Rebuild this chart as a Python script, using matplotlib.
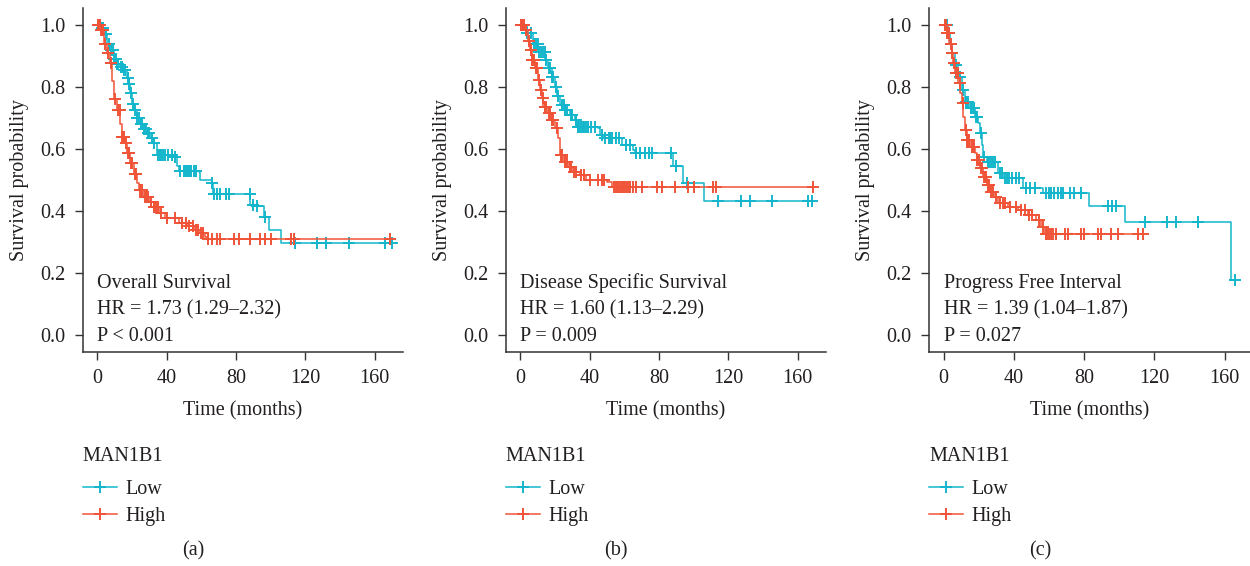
import numpy as np
import matplotlib.pyplot as plt
from matplotlib.lines import Line2D

plt.rcParams['font.family'] = ['Liberation Serif', 'DejaVu Serif']
plt.rcParams['font.size'] = 14.5

TEXT = "#231f20"
LOW_COL = "#14b6cc"
HIGH_COL = "#f05438"
FS = 14.5

# ---- (a) Overall Survival ----
a_low_t = [0, 2, 4, 5.6, 7.5, 9.4, 11, 13, 15, 17, 18, 19, 20, 21, 23, 25, 27, 29, 31, 32.5,
           34.5, 44, 46, 47, 58.6, 59.5, 66, 67, 88.4, 92, 96, 99, 106]
a_low_s = [1, 0.99, 0.97, 0.94, 0.92, 0.89, 0.875, 0.865, 0.855, 0.83, 0.81, 0.78, 0.745, 0.725,
           0.70, 0.68, 0.665, 0.65, 0.635, 0.62, 0.58, 0.575, 0.545, 0.53, 0.525, 0.50, 0.49,
           0.455, 0.42, 0.415, 0.38, 0.34, 0.296]
a_low_c = [1, 2.5, 3, 5, 7, 8, 9, 9.5, 10.5, 11.5, 12, 13.5, 14, 14.5, 15.5, 16, 17.5, 18.5, 19.5,
           20.5, 22, 23, 24, 25.5, 26, 27, 28, 29.5, 30, 31.5, 33, 35, 36, 37, 38, 39, 41, 43, 45,
           47.5, 50, 51, 52, 53, 54, 56, 57, 66, 67.5, 69, 71, 74, 76, 88, 90, 92, 96.5, 114, 127,
           132, 145, 166, 170]
a_high_t = [0, 1.7, 3.7, 5.6, 7.5, 8.5, 9.4, 11.4, 13.3, 14.3, 16, 17, 19, 21, 23, 24, 27, 30,
            32.5, 36.4, 39, 47, 52, 55.7, 59.5, 62.4, 63.4]
a_high_s = [1, 0.984, 0.94, 0.91, 0.876, 0.82, 0.76, 0.725, 0.68, 0.64, 0.62, 0.586, 0.554, 0.52,
            0.49, 0.468, 0.446, 0.43, 0.414, 0.392, 0.376, 0.36, 0.35, 0.339, 0.328, 0.317, 0.309]
a_high_c = [0.5, 1, 1.5, 2, 2.5, 3, 4.5, 6, 8, 10, 12, 13, 14.5, 15, 15.5, 16.5, 17.5, 18, 18.5,
            19.5, 20, 21.5, 22, 22.5, 24.5, 25, 25.5, 26, 27.5, 28, 28.5, 29, 31, 33, 34, 35, 37,
            40, 45, 49, 51, 53, 55, 57, 58, 60, 61, 64, 66, 69, 71, 79, 82, 88, 94, 97, 100,
            111.5, 113.5, 169]

# ---- (b) Disease Specific Survival ----
b_low_t = [0, 3.7, 7.5, 10.4, 14.2, 16, 18, 20, 21, 23, 25.8, 28.7, 31.5, 32.5, 45, 46, 48,
           58.5, 65, 66, 88, 94, 106]
b_low_s = [1, 0.973, 0.94, 0.914, 0.887, 0.86, 0.833, 0.80, 0.77, 0.742, 0.726, 0.71, 0.694,
           0.672, 0.667, 0.645, 0.634, 0.613, 0.597, 0.586, 0.545, 0.491, 0.432]
b_low_c = [1, 2, 4, 6, 8, 9, 10, 11, 12, 13, 14, 15, 16.5, 17, 18.5, 19, 20.5, 22, 24, 25, 26,
           27, 29, 30, 32, 33, 34, 35, 36, 37, 38, 39, 41, 43, 47, 49, 51, 52, 53, 55, 57, 61,
           63, 66.5, 69, 72, 74, 76, 87, 90, 96, 114, 127.5, 132.5, 145, 166, 168]
b_high_t = [0, 2.7, 4.6, 5.6, 6.5, 8.5, 10.4, 11.3, 12.3, 13.3, 16, 18, 20, 22, 23, 25, 28, 30.6,
            34.4, 38, 50, 53]
b_high_s = [1, 0.984, 0.95, 0.92, 0.887, 0.86, 0.822, 0.79, 0.763, 0.737, 0.715, 0.694, 0.667,
            0.634, 0.58, 0.559, 0.543, 0.527, 0.516, 0.50, 0.495, 0.478]
b_high_c = [0.5, 1, 1.5, 2, 3, 3.5, 5, 6, 7, 7.5, 8, 9, 9.5, 11, 12, 13, 14, 14.5, 15, 16.5, 17,
            18.5, 19, 21, 23.5, 24, 25.5, 26, 27, 28.5, 29, 31, 32, 35, 37, 40, 45, 47, 48, 54,
            55, 56, 57, 58, 59, 60, 61, 62, 63, 65, 67, 70, 78.6, 81.5, 89, 97, 100, 111, 113,
            169]

# ---- (c) Progress Free Interval ----
c_low_t = [0, 2.6, 3.6, 4.5, 6.4, 8.3, 10.2, 12.1, 15, 17.8, 19.7, 20.6, 21.6, 22.5, 24.4, 31,
           34, 45, 56.5, 82.6, 103.4, 163.5]
c_low_s = [1, 0.973, 0.94, 0.909, 0.871, 0.833, 0.79, 0.753, 0.731, 0.704, 0.683, 0.65, 0.613,
           0.575, 0.559, 0.521, 0.505, 0.473, 0.459, 0.417, 0.365, 0.177]
c_low_c = [1, 2, 3, 4, 5, 7, 9, 11, 12.5, 13, 14, 15.5, 16, 17, 18.5, 19, 21, 23, 25, 26, 27, 28,
           29, 32, 33, 35, 36, 37, 39, 41, 43, 47, 49, 52, 58, 60, 61, 63, 65, 67, 68, 72, 74,
           78, 93.4, 96, 98, 114.6, 127.4, 132, 144.8, 165.8]
c_high_t = [0, 1.7, 3.2, 4.5, 5.5, 6.4, 8.3, 9.3, 10.2, 11.2, 12.1, 13, 15, 17.8, 18.7, 20.6,
            22.5, 24.4, 26.3, 29, 31, 36.7, 42.3, 48, 52.7, 55.6, 57]
c_high_s = [1, 0.973, 0.94, 0.909, 0.876, 0.844, 0.812, 0.78, 0.747, 0.704, 0.661, 0.629, 0.608,
            0.586, 0.565, 0.538, 0.511, 0.484, 0.462, 0.446, 0.425, 0.414, 0.403, 0.387, 0.371,
            0.349, 0.326]
c_high_c = [0.5, 1, 1.5, 2, 2.5, 3, 4, 5, 6, 7, 8, 9, 11, 12.5, 13.5, 14, 14.5, 16, 16.5, 17,
            19, 20, 21, 22, 23, 23.5, 24, 25, 26, 27, 28, 30, 32, 34, 35, 38, 41, 44, 46, 48.5,
            50, 54, 56.5, 58, 59, 60, 61, 62, 64, 68.8, 70.7, 78.3, 80.1, 87.7, 89.6, 95.3, 99,
            110.4, 113.2]

titles = ["Overall Survival", "Disease Specific Survival", "Progress Free Interval"]
hr_text = ["HR = 1.73 (1.29\u20132.32)", "HR = 1.60 (1.13\u20132.29)", "HR = 1.39 (1.04\u20131.87)"]
p_text = ["P < 0.001", "P = 0.009", "P = 0.027"]
panel_tags = ["(a)", "(b)", "(c)"]
x_ticks = [0, 40, 80, 120, 160]
y_ticks = [0.0, 0.2, 0.4, 0.6, 0.8, 1.0]

curves = [
    ((a_low_t, a_low_s, a_low_c), (a_high_t, a_high_s, a_high_c)),
    ((b_low_t, b_low_s, b_low_c), (b_high_t, b_high_s, b_high_c)),
    ((c_low_t, c_low_s, c_low_c), (c_high_t, c_high_s, c_high_c)),
]
xlims = [(-8.4, 176.4), (-8.4, 176.4), (-8.3, 174.3)]
positions = [[0.0662, 0.3781, 0.2562, 0.6078],
             [0.4046, 0.3781, 0.2563, 0.6078],
             [0.7433, 0.3781, 0.2566, 0.6078]]


def km_curve(ax, t, s, cens, color):
    t = np.asarray(t, float)
    s = np.asarray(s, float)
    cens = np.asarray(cens, float)
    tend = max(t[-1], cens.max())
    ax.step(np.append(t, tend), np.append(s, s[-1]), where='post', color=color, lw=1.1)
    idx = np.searchsorted(t, cens, side='right') - 1
    ax.plot(cens, s[idx], ls='none', marker='+', ms=8, mew=1.4, color=color)


fig = plt.figure(figsize=(12.5, 5.66), dpi=100)

for i in range(3):
    ax = fig.add_axes(positions[i])
    low, high = curves[i]
    km_curve(ax, *low, LOW_COL)
    km_curve(ax, *high, HIGH_COL)

    ax.set_xlim(*xlims[i])
    ax.set_ylim(-0.055, 1.055)
    ax.set_xticks(x_ticks)
    ax.set_yticks(y_ticks)
    ax.set_yticklabels([f"{v:.1f}" for v in y_ticks])
    for side in ['top', 'right']:
        ax.spines[side].set_visible(False)
    for side in ['left', 'bottom']:
        ax.spines[side].set_color("#333333")
        ax.spines[side].set_linewidth(1.1)
    ax.tick_params(direction='out', length=5.5, width=1.0, color="#333333",
                   labelcolor=TEXT, labelsize=FS)
    ax.tick_params(axis='x', pad=6.5)
    ax.tick_params(axis='y', pad=7)
    ax.set_xlabel("Time (months)", color=TEXT, fontsize=FS, labelpad=10)
    ax.set_ylabel("Survival probability", color=TEXT, fontsize=FS, labelpad=8)

    ax.text(0, 0.151, titles[i], color=TEXT, fontsize=FS, va='baseline')
    ax.text(0, 0.065, hr_text[i], color=TEXT, fontsize=FS, va='baseline')
    ax.text(0, -0.021, p_text[i], color=TEXT, fontsize=FS, va='baseline')

    handles = [Line2D([], [], color=LOW_COL, lw=1.1, marker='+', ms=8, mew=1.4),
               Line2D([], [], color=HIGH_COL, lw=1.1, marker='+', ms=8, mew=1.4)]
    leg = ax.legend(handles, ["Low", "High"], title="MAN1B1", loc='upper left',
                    bbox_to_anchor=(0.0, -0.275), frameon=False, alignment='left',
                    handlelength=1.7, handletextpad=0.4, labelspacing=0.42,
                    borderpad=0, borderaxespad=0, fontsize=FS, title_fontsize=FS)
    leg._legend_box.sep = 10
    for txt in leg.get_texts():
        txt.set_color(TEXT)
    leg.get_title().set_color(TEXT)

    ax.text(0.345, -0.578, panel_tags[i], transform=ax.transAxes, ha='center',
            va='center', color=TEXT, fontsize=FS)

fig.savefig("out.png", dpi=100)
